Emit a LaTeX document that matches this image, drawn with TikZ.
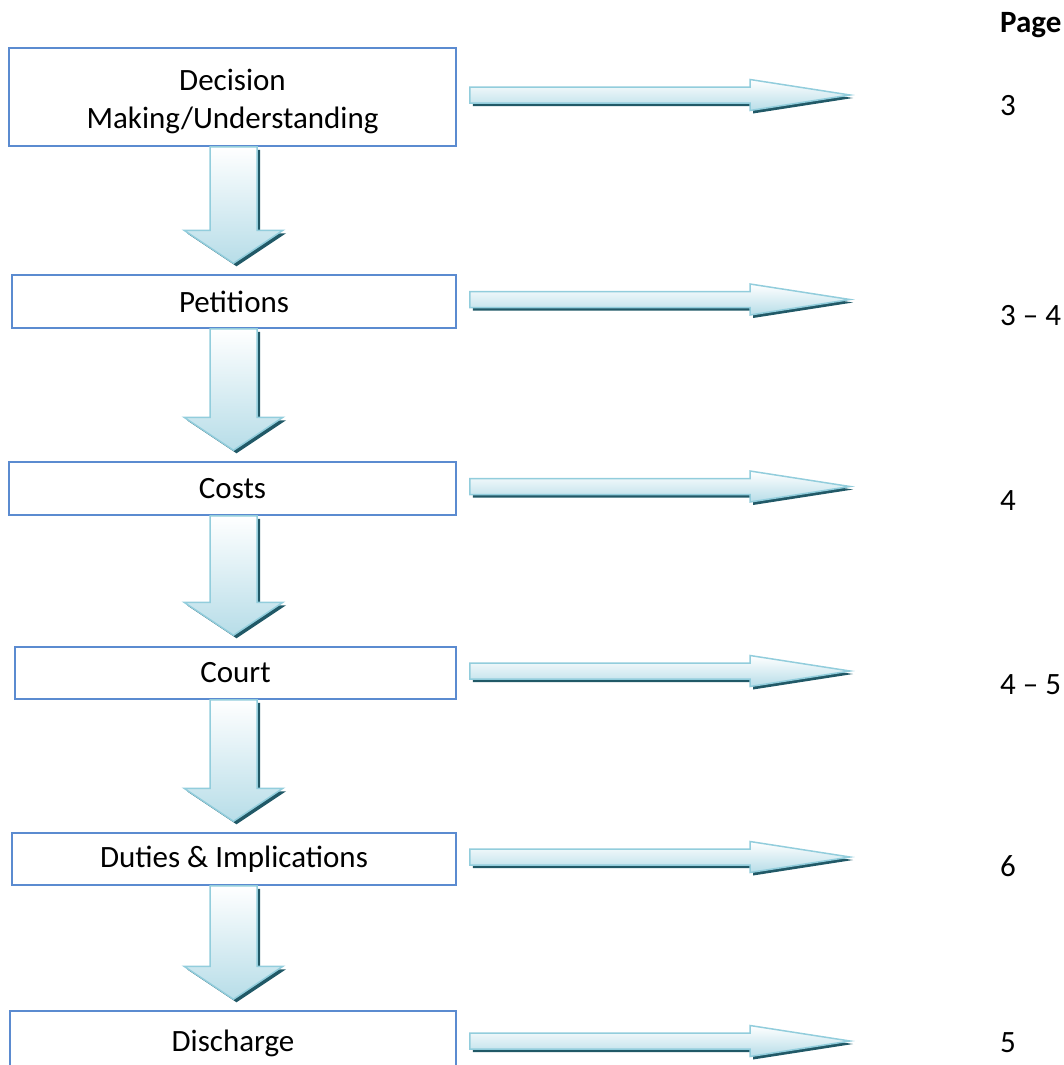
\documentclass[tikz,border=0pt]{standalone}
\usepackage{fontspec}
\setmainfont{Carlito}
\usetikzlibrary{calc}

\definecolor{boxline}{HTML}{5B8BD0}
\definecolor{flowedge}{HTML}{92CDDC}
\definecolor{flowblue}{HTML}{B7DDE8}
\definecolor{flowdark}{HTML}{215967}

\tikzset{
    stage/.style={draw=boxline, line width=1.5pt, fill=white, align=center, inner sep=0pt},
    flowfill/.style={top color=white, bottom color=flowblue, draw=flowedge, line width=1.5pt},
    flowshadow/.style={fill=flowdark},
    pagenum/.style={anchor=base west, inner sep=0pt}
}

% block arrow going down from box #1 to box #2
\newcommand{\downflow}[2]{%
    \fill[flowshadow] let \p1=(#1.south -| ax), \p2=($(#2.north -| ax)+(0,-11)$) in
        (\x1-20.5pt,\y1-3pt) -- (\x1+26.5pt,\y1-3pt) -- (\x1+26.5pt,\y2+30pt) -- (\x1+52.5pt,\y2+30pt)
        -- (\x1+3pt,\y2-3pt) -- (\x1-46.5pt,\y2+30pt) -- (\x1-20.5pt,\y2+30pt) -- cycle;
    \path[flowfill] let \p1=(#1.south -| ax), \p2=($(#2.north -| ax)+(0,-11)$) in
        (\x1-23.5pt,\y1) -- (\x1+23.5pt,\y1) -- (\x1+23.5pt,\y2+33pt) -- (\x1+49.5pt,\y2+33pt)
        -- (\x1,\y2) -- (\x1-49.5pt,\y2+33pt) -- (\x1-23.5pt,\y2+33pt) -- cycle;
}

% block arrow going right from box #1
\newcommand{\sideflow}[1]{%
    \coordinate (#1tip) at ($(#1.east -| tx)+(0,-2)$);
    \fill[flowshadow] let \p1=($(#1.east)+(13,-2)$), \p2=(#1tip) in
        (\x1+3pt,\y1+5pt) -- (\x2-97pt,\y1+5pt) -- (\x2-97pt,\y1+12.5pt) -- (\x2+3pt,\y1-3pt)
        -- (\x2-97pt,\y1-18.5pt) -- (\x2-97pt,\y1-11pt) -- (\x1+3pt,\y1-11pt) -- cycle;
    \path[flowfill] let \p1=($(#1.east)+(13,-2)$), \p2=(#1tip) in
        (\x1,\y1+8pt) -- (\x2-100pt,\y1+8pt) -- (\x2-100pt,\y1+15.5pt) -- (\x2,\y1)
        -- (\x2-100pt,\y1-15.5pt) -- (\x2-100pt,\y1-8pt) -- (\x1,\y1-8pt) -- cycle;
}

\begin{document}
\begin{tikzpicture}[x=1pt, y=-1pt, font=\fontsize{31}{38}\selectfont]
    \useasboundingbox (0,0) rectangle (1064,1065);
    \coordinate (ax) at (233.5,0);
    \coordinate (tx) at (850,0);

    % stages
    \node[stage, minimum width=447, minimum height=98] (decision) at (232.5,97) {\rule{0pt}{31pt}Decision\\Making/Understanding};
    \node[stage, minimum width=444, minimum height=53] (petitions) at (234,301.5) {Petitions};
    \node[stage, minimum width=447, minimum height=53] (costs) at (232.5,488.5) {Costs};
    \node[stage, minimum width=441, minimum height=52] (court) at (235.5,673) {Court};
    \node[stage, minimum width=444, minimum height=52] (duties) at (234,859) {Duties \& Implications};
    \node[stage, minimum width=446, minimum height=64] (discharge) at (233,1043) {Discharge};

    % flow down
    \downflow{decision}{petitions}
    \downflow{petitions}{costs}
    \downflow{costs}{court}
    \downflow{court}{duties}
    \downflow{duties}{discharge}

    % flow to the pages
    \sideflow{decision}
    \sideflow{petitions}
    \sideflow{costs}
    \sideflow{court}
    \sideflow{duties}
    \sideflow{discharge}

    % page column
    \node[pagenum, font=\fontsize{31}{38}\selectfont\bfseries] (pagehead) at (1000,33) {Page};
    \node[pagenum] (pdecision) at (1000,115) {3};
    \node[pagenum] (ppetitions) at (1000,325) {3 – 4};
    \node[pagenum] (pcosts) at (1000,510) {4};
    \node[pagenum] (pcourt) at (1000,694) {4 – 5};
    \node[pagenum] (pduties) at (1000,876) {6};
    \node[pagenum] (pdischarge) at (1000,1052) {5};
\end{tikzpicture}
\end{document}
